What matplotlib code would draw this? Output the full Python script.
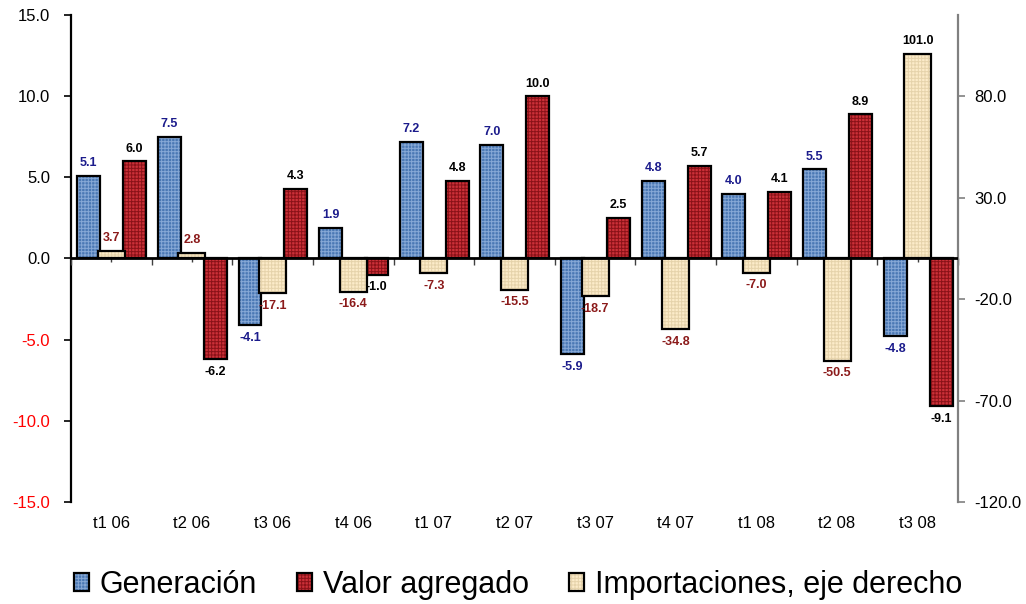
import matplotlib.pyplot as plt
from matplotlib.patches import Patch
from matplotlib.legend_handler import HandlerTuple
import numpy as np

plt.rcParams['font.family'] = ['Liberation Sans', 'DejaVu Sans']
plt.rcParams['hatch.linewidth'] = 0.7

trimestres = ["t1 06", "t2 06", "t3 06", "t4 06", "t1 07", "t2 07",
              "t3 07", "t4 07", "t1 08", "t2 08", "t3 08"]
generacion = [5.1, 7.5, -4.1, 1.9, 7.2, 7.0, -5.9, 4.8, 4.0, 5.5, -4.8]
valor_agregado = [6.0, -6.2, 4.3, -1.0, 4.8, 10.0, 2.5, 5.7, 4.1, 8.9, -9.1]
importaciones = [3.7, 2.8, -17.1, -16.4, -7.3, -15.5, -18.7, -34.8, -7.0, -50.5, 101.0]

left_ticks = [-15, -10, -5, 0, 5, 10, 15]
right_ticks = [-120, -70, -20, 30, 80]

# colores: relleno, trama
c_gen = ("#4a78b4", "#86a8d6")
c_val = ("#cc3038", "#8a1218")
c_imp = ("#fcebc9", "#e6d3ab")

x = np.arange(len(trimestres))

fig = plt.figure(figsize=(10.26, 6.04), dpi=100)
ax = fig.add_axes([0.0692, 0.1689, 0.8645, 0.8063])
ax2 = ax.twinx()


def barras(axis, pos, vals, width, cols, z):
    axis.bar(pos, vals, width, color=cols[0], edgecolor=cols[1], linewidth=0,
             hatch='+++++', zorder=z)
    axis.bar(pos, vals, width, fill=False, edgecolor='black', linewidth=1.6,
             zorder=z + 0.1)


barras(ax, x - 0.28, generacion, 0.285, c_gen, 2)
barras(ax, x + 0.29, valor_agregado, 0.285, c_val, 2)
barras(ax2, x, importaciones, 0.335, c_imp, 3)


def etiquetas(axis, pos, vals, color):
    for p, v in zip(pos, vals):
        off = 9 if v >= 0 else -9
        col = color
        if axis is ax2 and v > 100:
            col = 'black'
        axis.annotate(f"{v:.1f}", (p, v), xytext=(0, off), textcoords='offset points',
                      ha='center', va='center', fontsize=9, fontweight='bold',
                      color=col, zorder=6)


etiquetas(ax, x - 0.28, generacion, "#1c1c8c")
etiquetas(ax, x + 0.29, valor_agregado, "black")
etiquetas(ax2, x, importaciones, "#8b1a1a")

# eje izquierdo
ax.set_xlim(-0.5, len(trimestres) - 0.5)
ax.set_ylim(-15, 15)
ax.set_yticks(left_ticks)
ax.set_yticklabels([f"{t:.1f}" for t in left_ticks], fontsize=12)
for lab, t in zip(ax.get_yticklabels(), left_ticks):
    lab.set_color('red' if t < 0 else 'black')
ax.tick_params(axis='y', direction='out', length=5, width=1.2, pad=10)
ax.spines['left'].set_linewidth(1.6)
for s in ['top', 'right', 'bottom']:
    ax.spines[s].set_visible(False)

ax.set_xticks(x)
ax.set_xticklabels(trimestres, fontsize=12)
ax.tick_params(axis='x', length=0, pad=10)

# eje derecho
ax2.set_ylim(-120, 120)
ax2.set_yticks(right_ticks)
ax2.set_yticklabels([f"{t:.1f}" for t in right_ticks], fontsize=12)
ax2.tick_params(axis='y', direction='out', length=5, width=1.2, color='#808080', pad=7)
ax2.spines['right'].set_color('#808080')
ax2.spines['right'].set_linewidth(1.6)
for s in ['top', 'left', 'bottom']:
    ax2.spines[s].set_visible(False)

# linea del cero con marcas
ax2.axhline(0, color='black', linewidth=2, zorder=5)
sec = ax2.secondary_xaxis(0.5)
sec.set_xticks(np.arange(-0.5, len(trimestres), 1.0))
sec.set_xticklabels([])
sec.set_xticks(x, minor=True)
sec.tick_params(axis='x', which='major', direction='in', length=5, width=1, color='#404040')
sec.tick_params(axis='x', which='minor', direction='in', length=3, width=1, color='#404040')
sec.spines['bottom'].set_visible(False)
sec.spines['top'].set_visible(False)

# leyenda
handles = []
for cols in [c_gen, c_val, c_imp]:
    h1 = Patch(facecolor=cols[0], edgecolor=cols[1], linewidth=0, hatch='+++++')
    h2 = Patch(fill=False, edgecolor='black', linewidth=1.6)
    handles.append((h1, h2))
fig.legend(handles, ["Generación", "Valor agregado", "Importaciones, eje derecho"],
           handler_map={tuple: HandlerTuple(ndivide=1, pad=0)},
           loc='center left', bbox_to_anchor=(0.072, 0.0315), ncol=3, frameon=False,
           fontsize=22, handlelength=0.49, handleheight=0.52, handletextpad=0.36,
           columnspacing=1.3, borderpad=0, borderaxespad=0)

fig.savefig('out.png', dpi=100)
